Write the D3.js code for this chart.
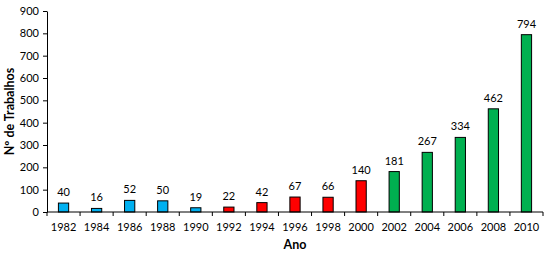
<!DOCTYPE html>
<html>
<head>
<meta charset="utf-8">
<script src="https://cdn.jsdelivr.net/npm/d3@7"></script>
<style>
  body { margin: 0; background: #fff; }
  text { font-family: Lato, "Open Sans", sans-serif; fill: #000; }
</style>
</head>
<body>
<svg id="svg"></svg>
<script>
// data
let years = ["1982", "1984", "1986", "1988", "1990", "1992", "1994", "1996", "1998", "2000", "2002", "2004", "2006", "2008", "2010"];
let counts = [40, 16, 52, 50, 19, 22, 42, 67, 66, 140, 181, 267, 334, 462, 794];
let groups = ["a", "a", "a", "a", "a", "b", "b", "b", "b", "b", "c", "c", "c", "c", "c"];
let yTicks = [0, 100, 200, 300, 400, 500, 600, 700, 800, 900];

// colors
let blue = "#00b0f0";
let red = "#ff0000";
let green = "#00b050";

let width = 550, height = 253;
let mLeft = 47, mRight = 543, mTop = 11, mBottom = 212;

let svg = d3.select("#svg")
    .attr("width", width)
    .attr("height", height);

let x = d3.scaleBand()
    .domain(years)
    .range([mLeft, mRight])
    .paddingInner(0.69)
    .paddingOuter(0.345);

let y = d3.scaleLinear()
    .domain([0, 900])
    .range([mBottom, mTop]);

let color = d3.scaleOrdinal()
    .domain(["a", "b", "c"])
    .range([blue, red, green]);

let data = years.map(function (d, i) {
  return { year: d, value: counts[i], group: groups[i] };
});

// bars
svg.append("g").selectAll("rect")
    .data(data)
    .enter().append("rect")
    .attr("x", d => x(d.year))
    .attr("y", d => y(d.value))
    .attr("width", x.bandwidth())
    .attr("height", d => mBottom - y(d.value))
    .attr("fill", d => color(d.group))
    .attr("stroke", "#000")
    .attr("stroke-width", 1);

// value labels
svg.append("g").selectAll("text")
    .data(data)
    .enter().append("text")
    .attr("x", d => x(d.year) + x.bandwidth() / 2)
    .attr("y", d => y(d.value) - 7)
    .attr("text-anchor", "middle")
    .attr("font-size", 11)
    .text(d => d.value);

// y axis
let yAxis = svg.append("g")
    .attr("transform", "translate(" + mLeft + ",0)")
    .call(d3.axisLeft(y).tickValues(yTicks).tickSize(4).tickPadding(4).tickSizeOuter(0));
yAxis.selectAll("text").attr("font-size", 11).style("font-family", "Lato, sans-serif");

// x axis: ticks on category boundaries
let boundaries = d3.range(years.length + 1).map(i => mLeft + i * (mRight - mLeft) / years.length);
let xAxis = svg.append("g").attr("transform", "translate(0," + mBottom + ")");
xAxis.append("line")
    .attr("x1", mLeft).attr("x2", mRight)
    .attr("stroke", "#000");
xAxis.selectAll("line.tick")
    .data(boundaries)
    .enter().append("line")
    .attr("class", "tick")
    .attr("x1", d => d).attr("x2", d => d)
    .attr("y1", 0).attr("y2", 4)
    .attr("stroke", "#000");
xAxis.selectAll("text")
    .data(years)
    .enter().append("text")
    .attr("x", d => x(d) + x.bandwidth() / 2)
    .attr("y", 19)
    .attr("text-anchor", "middle")
    .attr("font-size", 11)
    .text(d => d);

// axis titles
svg.append("text")
    .attr("x", (mLeft + mRight) / 2)
    .attr("y", 249)
    .attr("text-anchor", "middle")
    .attr("font-size", 12.5)
    .attr("font-weight", "bold")
    .text("Ano");

svg.append("text")
    .attr("transform", "translate(14," + ((mTop + mBottom) / 2) + ") rotate(-90)")
    .attr("text-anchor", "middle")
    .attr("font-size", 12.5)
    .attr("font-weight", "bold")
    .text("Nº de Trabalhos");
</script>
</body>
</html>
